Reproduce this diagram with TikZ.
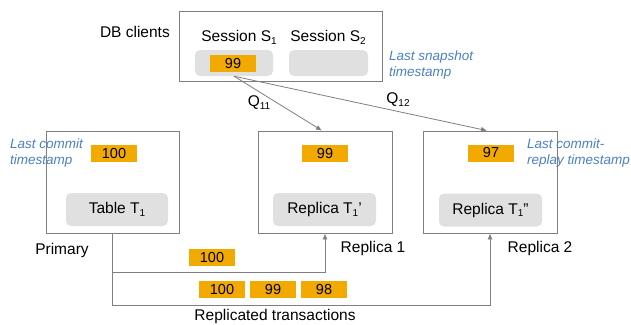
\documentclass[tikz,border=0pt]{standalone}
\usepackage{fontspec}
\setmainfont{Liberation Sans}
\usetikzlibrary{arrows.meta}
\definecolor{stampcol}{HTML}{F2AA00}
\definecolor{slotcol}{HTML}{E0E0E0}
\definecolor{notecol}{HTML}{4A80C4}
\definecolor{linecol}{HTML}{7F7F7F}
\newcommand{\lowsub}[1]{\raisebox{-0.35ex}{\fontsize{10}{10}\selectfont #1}}
\tikzset{
  frame/.style={draw=linecol, line width=0.8pt, inner sep=0},
  slot/.style={fill=slotcol, rounded corners=5pt, inner sep=0},
  stamp/.style={fill=stampcol, minimum width=46pt, minimum height=17pt, inner sep=0,
    font=\fontsize{14.5}{16}\selectfont},
  note/.style={text=notecol, align=left, inner sep=0,
    font=\fontsize{13.5}{16}\selectfont\itshape},
  flow/.style={draw=linecol, line width=0.8pt, -{Latex[length=6pt,width=5pt]}},
}
\begin{document}
\begin{tikzpicture}[x=1pt, y=-1pt, font=\fontsize{15.5}{18}\selectfont]
  \useasboundingbox (0,0) rectangle (631,324);
  % DB clients
  \node[frame, minimum width=203pt, minimum height=70pt] (clients) at (280.5,46) {};
  \node[anchor=east, inner sep=0] (clientlbl) at (170,32) {DB clients};
  \node[inner sep=0] (s1lbl) at (239,37) {Session S\lowsub{1}};
  \node[inner sep=0] (s2lbl) at (328,37) {Session S\lowsub{2}};
  \node[slot, minimum width=78pt, minimum height=26pt] (s1slot) at (234,63) {};
  \node[slot, minimum width=79pt, minimum height=26pt] (s2slot) at (328.5,63) {};
  \node[stamp] (s1stamp) at (233,63.5) {99};
  \node[note, anchor=west] (snapnote) at (389,65) {Last snapshot\\timestamp};
  % Primary
  \node[frame, minimum width=133pt, minimum height=102pt] (primary) at (112.5,182) {};
  \node[stamp] (pstamp) at (114,153.5) {100};
  \node[slot, minimum width=102pt, minimum height=33pt] (pslot) at (117,209.5) {Table T\lowsub{1}};
  \node[inner sep=0] (plbl) at (62,250) {Primary};
  \node[note, anchor=west] (commitnote) at (10,153.5) {Last commit\\timestamp};
  % Replica 1
  \node[frame, minimum width=134pt, minimum height=102pt] (rep1) at (325,182) {};
  \node[stamp] (r1stamp) at (325,153.5) {99};
  \node[slot, minimum width=103pt, minimum height=33pt] (r1slot) at (324.5,209.5) {Replica T\lowsub{1}'};
  \node[inner sep=0] (r1lbl) at (373,248) {Replica 1};
  % Replica 2
  \node[frame, minimum width=134pt, minimum height=102pt] (rep2) at (490,182) {};
  \node[stamp] (r2stamp) at (491,153) {97};
  \node[slot, minimum width=103pt, minimum height=33pt] (r2slot) at (490.5,210) {Replica T\lowsub{1}''};
  \node[inner sep=0] (r2lbl) at (540,248) {Replica 2};
  \node[note, anchor=west] (replaynote) at (527,153.5) {Last commit-\\replay timestamp};
  % Queries
  \draw[flow] (s1slot.south) -- ([xshift=-3pt]rep1.north);
  \draw[flow] (s1slot.south) -- ([xshift=-3pt]rep2.north);
  \node[inner sep=0] (q11) at (259,103) {Q\lowsub{11}};
  \node[inner sep=0] (q12) at (398,100) {Q\lowsub{12}};
  % Replication
  \coordinate (midrow) at (0,272);
  \coordinate (lowrow) at (0,305);
  \draw[flow] (primary.south) |- (rep2.south |- lowrow) -- (rep2.south);
  \draw[flow] (primary.south |- midrow) -| (rep1.south);
  \node[stamp] (t1stamp) at (212,257.5) {100};
  \node[stamp] (t2stamp) at (222,289.5) {100};
  \node[stamp] (t3stamp) at (273,289.5) {99};
  \node[stamp] (t4stamp) at (324,289.5) {98};
  \node[inner sep=0] (txlbl) at (275,316) {Replicated transactions};
\end{tikzpicture}
\end{document}
